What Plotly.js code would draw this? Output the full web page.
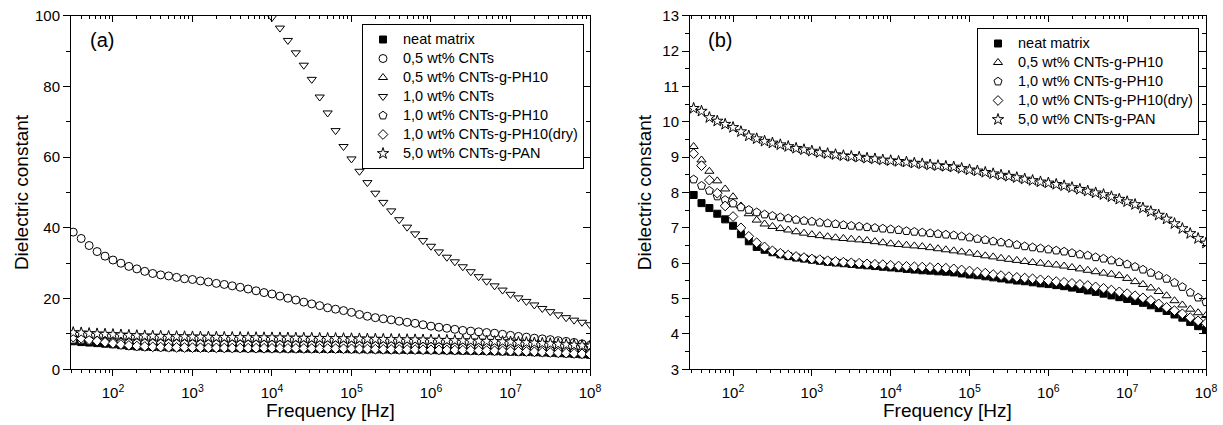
<!DOCTYPE html>
<html>
<head>
<meta charset="utf-8">
<script src="https://cdn.plot.ly/plotly-3.0.1.min.js"></script>
<style>
html,body{margin:0;padding:0;background:#fff;}
#chart{width:1223px;height:425px;}
</style>
</head>
<body>
<div id="chart"></div>
<script>
// log10 of measurement frequency (Hz)
const logFreq = [1.5,1.6,1.7,1.8,1.9,2.0,2.1,2.2,2.3,2.4,2.5,2.6,2.7,2.8,2.9,3.0,3.1,3.2,3.3,3.4,3.5,3.6,3.7,3.8,3.9,
  4.0,4.1,4.2,4.3,4.4,4.5,4.6,4.7,4.8,4.9,5.0,5.1,5.2,5.3,5.4,5.5,5.6,5.7,5.8,5.9,6.0,6.1,6.2,6.3,6.4,6.5,6.6,6.7,6.8,6.9,
  7.0,7.1,7.2,7.3,7.4,7.5,7.6,7.7,7.8,7.9,8.0];

const neatMatrix = [7.93,7.70,7.56,7.40,7.24,7.06,6.82,6.62,6.46,6.38,6.31,6.25,6.20,6.16,6.13,6.10,6.07,6.04,6.02,6.00,5.98,5.96,5.94,5.92,5.90,
  5.88,5.86,5.84,5.82,5.80,5.79,5.77,5.76,5.74,5.71,5.68,5.66,5.63,5.60,5.57,5.54,5.51,5.49,5.46,5.43,5.41,5.38,5.35,5.31,5.27,5.23,5.19,5.14,5.09,5.04,
  4.99,4.93,4.88,4.81,4.73,4.65,4.55,4.46,4.34,4.22,4.11];

const cnt05 = [38.8,37.0,35.0,33.3,32.0,30.9,30.0,29.1,28.4,27.7,27.1,26.7,26.4,26.0,25.6,25.4,25.0,24.7,24.3,24.0,23.6,23.2,22.7,22.2,21.7,
  21.3,20.7,20.1,19.6,19.0,18.5,18.0,17.4,17.0,16.6,16.1,15.5,15.0,14.6,14.3,14.0,13.6,13.3,13.0,12.6,12.2,11.9,11.6,11.3,11.0,10.8,10.6,10.4,10.2,9.9,
  9.6,9.3,9.1,8.8,8.6,8.4,8.1,7.9,7.6,7.2,6.8];

const ph10_05 = [9.30,8.92,8.60,8.33,8.10,7.88,7.62,7.40,7.22,7.11,7.04,6.98,6.94,6.89,6.85,6.81,6.78,6.75,6.72,6.70,6.68,6.66,6.64,6.61,6.58,
  6.55,6.53,6.51,6.49,6.47,6.44,6.41,6.38,6.35,6.32,6.29,6.25,6.21,6.18,6.14,6.11,6.08,6.05,6.02,6.00,5.97,5.95,5.92,5.88,5.84,5.80,5.76,5.72,5.69,5.65,
  5.57,5.48,5.40,5.30,5.20,5.08,4.94,4.82,4.70,4.60,4.52];

const cnt10 = [null,null,null,null,null,null,null,null,null,null,null,null,null,null,null,null,null,null,null,null,null,null,null,null,null,
  99.5,96.5,93.0,89.5,86.0,82.0,77.0,72.5,67.5,63.0,59.5,56.0,52.8,49.8,47.2,44.8,42.3,40.2,38.3,36.4,34.8,33.2,31.7,30.4,29.0,27.6,26.2,24.9,23.6,22.4,
  21.2,20.2,19.2,18.2,17.2,16.3,15.4,14.6,13.9,13.3,12.6];

const ph10_10 = [8.37,8.19,8.05,7.89,7.79,7.69,7.58,7.51,7.44,7.38,7.34,7.30,7.27,7.23,7.20,7.18,7.15,7.13,7.11,7.08,7.06,7.04,7.02,7.00,6.98,
  6.96,6.94,6.91,6.89,6.87,6.85,6.83,6.81,6.79,6.76,6.73,6.69,6.66,6.62,6.59,6.56,6.52,6.48,6.45,6.42,6.39,6.36,6.33,6.29,6.25,6.22,6.17,6.13,6.08,6.03,
  5.97,5.90,5.82,5.73,5.65,5.56,5.45,5.33,5.17,5.03,4.90];

const ph10_10dry = [9.10,8.76,8.35,7.98,7.62,7.32,7.00,6.76,6.58,6.46,6.35,6.28,6.23,6.19,6.16,6.12,6.10,6.07,6.05,6.03,6.01,6.00,5.98,5.97,5.96,
  5.94,5.92,5.91,5.90,5.89,5.88,5.87,5.86,5.84,5.81,5.78,5.75,5.72,5.68,5.65,5.62,5.60,5.58,5.56,5.53,5.51,5.48,5.46,5.43,5.40,5.37,5.33,5.29,5.24,5.19,
  5.14,5.08,5.02,4.95,4.85,4.75,4.66,4.57,4.46,4.37,4.30];

const pan50 = [10.38,10.30,10.12,10.02,9.93,9.84,9.72,9.60,9.52,9.45,9.40,9.35,9.30,9.25,9.21,9.17,9.13,9.10,9.07,9.04,9.02,9.00,8.97,8.95,8.92,
  8.90,8.88,8.86,8.83,8.81,8.78,8.76,8.74,8.72,8.68,8.64,8.61,8.57,8.53,8.49,8.46,8.42,8.38,8.34,8.30,8.27,8.23,8.19,8.14,8.09,8.04,7.99,7.94,7.88,7.81,
  7.74,7.66,7.56,7.46,7.36,7.25,7.12,6.98,6.84,6.70,6.57];

const names = {
  neat: 'neat matrix',
  cnt05: '0,5 wt% CNTs',
  ph05: '0,5 wt% CNTs-g-PH10',
  cnt10: '1,0 wt% CNTs',
  ph10: '1,0 wt% CNTs-g-PH10',
  dry: '1,0 wt% CNTs-g-PH10(dry)',
  pan: '5,0 wt% CNTs-g-PAN'
};

const xTickVals = [1e2,1e3,1e4,1e5,1e6,1e7,1e8];
const xTickText = ['10<sup>2</sup>','10<sup>3</sup>','10<sup>4</sup>','10<sup>5</sup>','10<sup>6</sup>','10<sup>7</sup>','10<sup>8</sup>'];
const yTicksA = [0,20,40,60,80,100];
const yTicksB = [3,4,5,6,7,8,9,10,11,12,13];
const xTitle = 'Frequency [Hz]';
const yTitle = 'Dielectric constant';

const freq = logFreq.map(v => Math.pow(10, v));

// minor log ticks (2..9 x 10^n)
const minorX = [];
for (let d = 1; d <= 7; d++) for (let m = 2; m <= 9; m++) { const v = m * Math.pow(10, d); if (v >= 28 && v <= 1e8) minorX.push(v); }

const FONT = 'Liberation Sans, Arial, sans-serif';
const legendLabel = t => '<span style="font-size:14.5px">' + t + '</span>';

function sty(symbol, size, filled) {
  return {symbol: symbol, size: size, color: filled ? '#000' : '#fff', line: {color: '#000', width: 1}};
}

const series = [
  {key:'neat', y: neatMatrix, m: sty('square', 7, true), a: true, b: true},
  {key:'cnt05', y: cnt05, m: sty('circle', 8, false), a: true, b: false},
  {key:'ph05', y: ph10_05, m: sty('triangle-up', 8, false), a: true, b: true},
  {key:'cnt10', y: cnt10, m: sty('triangle-down', 8, false), a: true, b: false},
  {key:'ph10', y: ph10_10, m: sty('pentagon', 8.5, false), a: true, b: true},
  {key:'dry', y: ph10_10dry, m: sty('diamond', 7.5, false), a: true, b: true},
  {key:'pan', y: pan50, m: sty('star', 8.5, false), a: true, b: true}
];

const traces = [];
series.forEach(s => {
  if (s.a) traces.push({x: freq, y: s.y, type: 'scatter', mode: 'markers', name: legendLabel(names[s.key]),
    marker: s.m, xaxis: 'x', yaxis: 'y', legend: 'legend', cliponaxis: true, hoverinfo: 'x+y'});
});
series.forEach(s => {
  if (s.b) traces.push({x: freq, y: s.y, type: 'scatter', mode: 'markers', name: legendLabel(names[s.key]),
    marker: s.m, xaxis: 'x2', yaxis: 'y2', legend: 'legend2', cliponaxis: true, hoverinfo: 'x+y'});
});
// helper traces to create mirrored (inward tick) axes
traces.push({x: [], y: [], xaxis: 'x3', yaxis: 'y', showlegend: false, hoverinfo: 'skip', mode: 'markers'});
traces.push({x: [], y: [], xaxis: 'x', yaxis: 'y3', showlegend: false, hoverinfo: 'skip', mode: 'markers'});
traces.push({x: [], y: [], xaxis: 'x4', yaxis: 'y2', showlegend: false, hoverinfo: 'skip', mode: 'markers'});
traces.push({x: [], y: [], xaxis: 'x2', yaxis: 'y4', showlegend: false, hoverinfo: 'skip', mode: 'markers'});

const W = 1223, H = 425;
const domXA = [71 / W, 590 / W];
const domXB = [690 / W, 1206 / W];
const domY = [1 - 369.3 / H, 1 - 15.7 / H];
const rangeA = [1.472, 8];
const rangeB = [1.454, 8];

function bottomX(range, domain, anchor) {
  return {type: 'log', range: range, domain: domain, anchor: anchor,
    tickmode: 'array', tickvals: xTickVals, ticktext: xTickText,
    ticks: 'outside', ticklen: 6, tickwidth: 1, tickcolor: '#000', ticklabelstandoff: 4,
    minor: {tickmode: 'array', tickvals: minorX, ticks: 'outside', ticklen: 3, tickwidth: 1, tickcolor: '#000', showgrid: false},
    showline: true, linecolor: '#000', linewidth: 1, showgrid: false, zeroline: false,
    tickfont: {family: FONT, size: 15, color: '#000'},
    automargin: false, fixedrange: true};
}
function topX(range, domain, over, anchor) {
  return {type: 'log', range: range, domain: domain, overlaying: over, side: 'top', anchor: anchor,
    tickmode: 'array', tickvals: xTickVals, showticklabels: false,
    ticks: 'inside', ticklen: 6, tickwidth: 1, tickcolor: '#000',
    minor: {tickmode: 'array', tickvals: minorX, ticks: 'inside', ticklen: 3, tickwidth: 1, tickcolor: '#000', showgrid: false},
    showline: true, linecolor: '#000', linewidth: 1, showgrid: false, zeroline: false, automargin: false, fixedrange: true};
}
function leftY(range, tickvals, dtickMinor, anchor, standoff) {
  return {range: range, domain: domY, anchor: anchor,
    tickmode: 'array', tickvals: tickvals,
    ticks: 'outside', ticklen: 7, tickwidth: 1, tickcolor: '#000',
    minor: {dtick: dtickMinor, ticks: 'outside', ticklen: 4, tickwidth: 1, tickcolor: '#000', showgrid: false},
    showline: true, linecolor: '#000', linewidth: 1, showgrid: false, zeroline: false,
    tickfont: {family: FONT, size: 15, color: '#000'},
    title: {text: yTitle, font: {family: FONT, size: 19, color: '#000'}, standoff: standoff},
    automargin: false, fixedrange: true};
}
function rightY(range, tickvals, dtickMinor, over, anchor) {
  return {range: range, domain: domY, overlaying: over, side: 'right', anchor: anchor,
    tickmode: 'array', tickvals: tickvals, showticklabels: false,
    ticks: 'inside', ticklen: 7, tickwidth: 1, tickcolor: '#000',
    minor: {dtick: dtickMinor, ticks: 'inside', ticklen: 4, tickwidth: 1, tickcolor: '#000', showgrid: false},
    showline: true, linecolor: '#000', linewidth: 1, showgrid: false, zeroline: false, automargin: false, fixedrange: true};
}

const legendBase = {bgcolor: '#fff', bordercolor: '#000', borderwidth: 1,
  font: {family: FONT, size: 12, color: '#000'}, xanchor: 'left', yanchor: 'top',
  itemwidth: 30, tracegroupgap: 0, traceorder: 'normal'};

function xTitleAnn(domain) {
  return {text: xTitle, xref: 'paper', yref: 'paper', x: (domain[0] + domain[1]) / 2, y: 1 - 410 / H,
    showarrow: false, xanchor: 'center', yanchor: 'middle', font: {family: FONT, size: 19, color: '#000'}};
}

const layout = {
  width: W, height: H,
  margin: {l: 0, r: 0, t: 0, b: 0, pad: 0},
  paper_bgcolor: '#fff', plot_bgcolor: 'rgba(0,0,0,0)',
  showlegend: true,
  font: {family: FONT, color: '#000'},
  xaxis: bottomX(rangeA, domXA, 'y'),
  yaxis: leftY([0, 100], yTicksA, 10, 'x', 1),
  xaxis3: topX(rangeA, domXA, 'x', 'y'),
  yaxis3: rightY([0, 100], yTicksA, 10, 'y', 'x'),
  xaxis2: bottomX(rangeB, domXB, 'y2'),
  yaxis2: leftY([3, 13], yTicksB, 0.5, 'x2', 5),
  xaxis4: topX(rangeB, domXB, 'x2', 'y2'),
  yaxis4: rightY([3, 13], yTicksB, 0.5, 'y2', 'x2'),
  legend: Object.assign({}, legendBase, {x: 362 / W, y: 1 - 24 / H}),
  legend2: Object.assign({}, legendBase, {x: 977 / W, y: 1 - 28 / H}),
  annotations: [
    xTitleAnn(domXA),
    xTitleAnn(domXB),
    {text: '(a)', xref: 'paper', yref: 'paper', x: 102 / W, y: 1 - 40 / H, showarrow: false,
      font: {family: FONT, size: 20, color: '#000'}, xanchor: 'center', yanchor: 'middle'},
    {text: '(b)', xref: 'paper', yref: 'paper', x: 720 / W, y: 1 - 40 / H, showarrow: false,
      font: {family: FONT, size: 20, color: '#000'}, xanchor: 'center', yanchor: 'middle'}
  ]
};

Plotly.newPlot('chart', traces, layout, {staticPlot: true, displayModeBar: false});
</script>
</body>
</html>
